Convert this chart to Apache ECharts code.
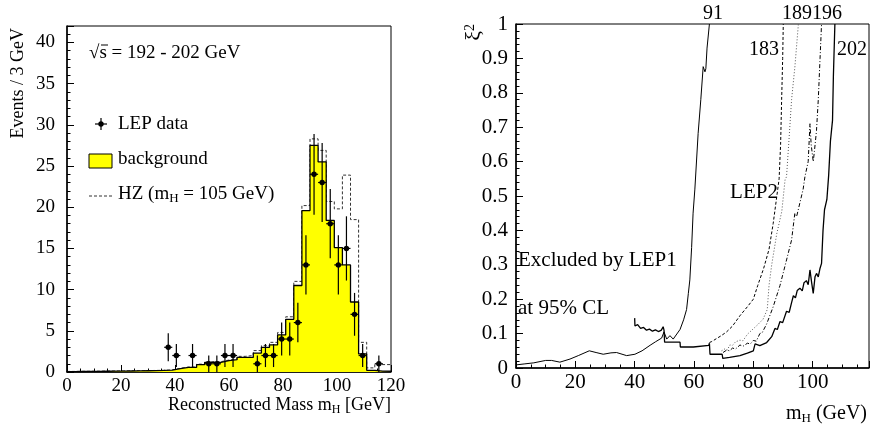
<!DOCTYPE html>
<html>
<head>
<meta charset="utf-8">
<script src="https://cdn.jsdelivr.net/npm/echarts/dist/echarts.min.js"></script>
<style>
html,body{margin:0;padding:0;background:#fff;}
#chart{width:871px;height:424px;}
</style>
</head>
<body>
<div id="chart"></div>
<script>
// ---------- Left panel: reconstructed mass histogram ----------
var binLow = [0,3,6,9,12,15,18,21,24,27,30,33,36,39,42,45,48,51,54,57,60,63,66,69,72,75,78,81,84,87,90,93,96,99,102,105,108,111,114,117];
var binHigh = 120;
var background = [0.05,0.06,0.07,0.08,0.09,0.1,0.11,0.12,0.13,0.15,0.17,0.19,0.22,0.4,0.56,0.56,0.9,1.17,1.17,1.37,1.5,1.77,1.77,2.3,3.0,3.3,4.5,6.4,10.5,19.6,27.5,25.5,18.4,15.1,13.0,8.5,2.2,0.2,0.1,0.1];
var hzSignal = [0.07,0.08,0.09,0.1,0.11,0.12,0.13,0.14,0.15,0.17,0.19,0.21,0.25,0.45,0.6,0.6,0.95,1.25,1.25,1.45,1.6,1.9,2.0,2.6,3.2,3.6,4.8,6.7,11.0,20.2,28.3,26.9,20.7,19.8,23.9,18.5,3.6,0.5,0.9,0.9];
var dataX = [37.5,40.5,46.5,52.5,55.5,58.5,61.5,70.5,73.5,76.5,79.5,82.5,85.5,88.5,91.5,94.5,97.5,100.5,103.5,106.5,109.5,115.5];
var dataY = [3,2,2,1,1,2,2,1,2,2,4,4,6,13,24,23,18,13,15,7,2,1];
var dataErr = [1.7,1.4,1.4,1.0,1.0,1.4,1.4,1.0,1.4,1.4,2.0,2.0,2.4,3.6,4.9,4.8,4.2,3.6,3.9,2.6,1.4,1.0];
var leftXTicks = {min:0, max:120, interval:20};
var leftYTicks = {min:0, max:42, interval:5};

// ---------- Right panel: xi^2 exclusion curves ----------
var curve91 = [[0,0.009],[3,0.012],[6,0.015],[10,0.022],[12,0.022],[14.8,0.017],[18.2,0.026],[21,0.036],[24.7,0.05],[27,0.045],[29.4,0.04],[32,0.044],[33.9,0.045],[37.3,0.036],[40.1,0.04],[42.5,0.05],[45.2,0.066],[47,0.076],[49.1,0.087],[49.9,0.105],[50.8,0.084],[51.9,0.094],[53,0.084],[55.3,0.112],[56.5,0.14],[57.5,0.17],[58.1,0.217],[58.6,0.256],[59.2,0.35],[59.7,0.45],[60.3,0.52],[61.4,0.682],[62.3,0.78],[63.1,0.876],[63.3,0.88],[63.7,0.861],[64.0,0.87],[64.4,0.93],[65.2,1.0]];
var curve183 = [[65.2,0.074],[66,0.077],[67.5,0.085],[69.2,0.094],[71,0.105],[73,0.122],[75.5,0.152],[78,0.178],[80,0.2],[81.5,0.24],[83.5,0.29],[85.3,0.345],[86.7,0.42],[87.9,0.498],[88.7,0.55],[89.2,0.65],[89.55,0.78],[89.9,0.9],[90.1,1.0]];
var curve189 = [[69.3,0.05],[70.5,0.056],[71.2,0.052],[72.1,0.067],[73,0.066],[74,0.076],[75.5,0.081],[76.5,0.079],[78,0.098],[80,0.114],[81.5,0.126],[83.3,0.142],[84.7,0.17],[85.3,0.24],[86.2,0.3],[87.9,0.39],[89.6,0.455],[90.7,0.547],[91.2,0.556],[92.0,0.66],[92.9,0.78],[94.0,0.874],[95.2,1.0]];
var curve196 = [[69.8,0.045],[71,0.052],[72,0.05],[73,0.058],[74,0.055],[75.5,0.067],[76.5,0.063],[78,0.072],[79,0.07],[80,0.08],[81,0.078],[82.2,0.1],[83,0.103],[84.5,0.128],[86.7,0.178],[89,0.24],[91.2,0.314],[92.9,0.372],[94,0.45],[94.6,0.44],[95.7,0.48],[96.8,0.52],[97.4,0.556],[98.5,0.60],[99.1,0.71],[99.5,0.65],[100.2,0.6],[100.6,0.63],[101.3,0.69],[101.9,0.78],[102.5,0.9],[103.0,1.0]];
var curve202 = [[40,0.145],[40.1,0.122],[41,0.126],[42,0.115],[43,0.118],[44,0.11],[45,0.113],[46,0.107],[47,0.111],[48,0.106],[49,0.11],[49.6,0.12],[49.9,0.11],[50.1,0.075],[55.3,0.075],[55.4,0.061],[59.8,0.061],[59.9,0.066],[65.0,0.066],[65.2,0.072],[65.4,0.04],[69.5,0.04],[69.7,0.028],[72,0.031],[75.5,0.036],[78,0.043],[80,0.05],[80.6,0.07],[82.2,0.065],[84.5,0.074],[86.2,0.091],[87.3,0.115],[88.1,0.112],[89.0,0.135],[89.9,0.132],[91.2,0.165],[92.1,0.162],[92.9,0.19],[93.5,0.21],[94.2,0.204],[94.8,0.225],[95.7,0.232],[96.5,0.224],[97.1,0.248],[97.9,0.254],[98.5,0.242],[99.1,0.285],[99.7,0.246],[100.2,0.217],[100.8,0.265],[101.3,0.275],[101.9,0.265],[102.5,0.29],[103.0,0.304],[103.3,0.30],[103.5,0.40],[104.0,0.46],[104.8,0.49],[105.4,0.56],[106.0,0.66],[106.7,0.72],[107.0,0.85],[107.5,1.0]];
var rightXTicks = {min:0, max:119, interval:20};
var rightYTicks = {min:0, max:1, interval:0.1};

// ---------- build ----------
function stepData(vals){
  var d = binLow.map(function(x,i){return [x, vals[i]];});
  d.push([binHigh, vals[vals.length-1]]);
  return d;
}
var pts = dataX.map(function(x,i){return [x, dataY[i], dataErr[i]];});

var SERIF = '"Liberation Serif","DejaVu Serif",serif';
var black = '#000';

function axisCommon(fs, margin){
  return {
    axisLine:{show:true, onZero:false, lineStyle:{color:black, width:1.5}},
    axisTick:{show:true, inside:true, length:7, lineStyle:{color:black, width:1}},
    minorTick:{show:true, length:3.5, lineStyle:{color:black, width:1}},
    splitLine:{show:false},
    minorSplitLine:{show:false},
    axisLabel:{color:black, fontFamily:SERIF, fontSize:fs, margin:margin, showMaxLabel:false}
  };
}
function mk(base, extra){ var o = JSON.parse(JSON.stringify(base)); for (var k in extra){ if (typeof extra[k]==='object' && o[k] && !Array.isArray(extra[k])){ for (var j in extra[k]) o[k][j]=extra[k][j]; } else o[k]=extra[k]; } return o; }

var chart = echarts.init(document.getElementById('chart'), null, {renderer:'canvas'});

var option = {
  animation:false,
  backgroundColor:'#fff',
  grid:[
    {left:67, top:26, width:324, height:346, show:true, borderColor:black, borderWidth:1, backgroundColor:'transparent'},
    {left:516, top:24, width:353, height:344, show:true, borderColor:black, borderWidth:1, backgroundColor:'transparent'}
  ],
  xAxis:[
    mk(axisCommon(19,5), {type:'value', gridIndex:0, min:leftXTicks.min, max:leftXTicks.max, interval:leftXTicks.interval, minorTick:{splitNumber:4}, axisLabel:{showMaxLabel:true}}),
    mk(axisCommon(21,4), {type:'value', gridIndex:1, min:rightXTicks.min, max:rightXTicks.max, interval:rightXTicks.interval, minorTick:{splitNumber:4}})
  ],
  yAxis:[
    mk(axisCommon(19,12), {type:'value', gridIndex:0, min:leftYTicks.min, max:leftYTicks.max, interval:leftYTicks.interval, minorTick:{splitNumber:5}}),
    mk(axisCommon(21,8), {type:'value', gridIndex:1, min:rightYTicks.min, max:rightYTicks.max, interval:rightYTicks.interval, minorTick:{splitNumber:5}, axisLabel:{showMaxLabel:true}})
  ],
  series:[
    {name:'HZ', type:'line', xAxisIndex:0, yAxisIndex:0, step:'end', data:stepData(hzSignal), showSymbol:false, symbol:'none',
      lineStyle:{color:'#333', width:1, type:[3,2]}, z:2},
    {name:'background', type:'line', xAxisIndex:0, yAxisIndex:0, step:'end', data:stepData(background), showSymbol:false, symbol:'none',
      lineStyle:{color:black, width:1.3}, areaStyle:{color:'#ffff00', opacity:1}, z:3},
    {name:'LEP data', type:'custom', xAxisIndex:0, yAxisIndex:0, data:pts, encode:{x:0,y:1}, z:5,
      renderItem:function(params, api){
        var x = api.value(0), y = api.value(1), e = api.value(2);
        var c = api.coord([x,y]);
        var t = api.coord([x,y+e]);
        var b = api.coord([x,Math.max(0,y-e)]);
        var l = api.coord([x-1.5,y]);
        var r = api.coord([x+1.5,y]);
        return {type:'group', children:[
          {type:'line', shape:{x1:c[0],y1:t[1],x2:c[0],y2:b[1]}, style:{stroke:black, lineWidth:1.2}},
          {type:'line', shape:{x1:l[0],y1:c[1],x2:r[0],y2:c[1]}, style:{stroke:black, lineWidth:1.2}},
          {type:'circle', shape:{cx:c[0],cy:c[1],r:2.7}, style:{fill:black}}
        ]};
      }},
    {name:'91', type:'line', xAxisIndex:1, yAxisIndex:1, data:curve91, showSymbol:false, symbol:'none', lineStyle:{color:black, width:1}},
    {name:'183', type:'line', xAxisIndex:1, yAxisIndex:1, data:curve183, showSymbol:false, symbol:'none', lineStyle:{color:black, width:1, type:[3,2]}},
    {name:'189', type:'line', xAxisIndex:1, yAxisIndex:1, data:curve189, showSymbol:false, symbol:'none', lineStyle:{color:'#555', width:1, type:[1,2]}},
    {name:'196', type:'line', xAxisIndex:1, yAxisIndex:1, data:curve196, showSymbol:false, symbol:'none', lineStyle:{color:black, width:1, type:[4,2,1,2]}},
    {name:'202', type:'line', xAxisIndex:1, yAxisIndex:1, data:curve202, showSymbol:false, symbol:'none', lineStyle:{color:black, width:1.3}}
  ],
  graphic:[
    // left panel texts
    {type:'text', x:18, y:28, rotation:Math.PI/2, style:{text:'Events / 3 GeV', font:'18px '+SERIF, fill:black, align:'right', verticalAlign:'middle'}},
    {type:'text', x:391, y:405, style:{rich:{a:{fontSize:18, fontFamily:SERIF, fill:black, lineHeight:22}, s:{fontSize:12, fontFamily:SERIF, fill:black, lineHeight:12, verticalAlign:'bottom'}}, text:'{a|Reconstructed Mass m}{s|H}{a| [GeV]}', align:'right', verticalAlign:'middle'}},
    {type:'text', x:89, y:53, style:{text:'\u221As = 192 - 202 GeV', font:'19px '+SERIF, fill:black, align:'left', verticalAlign:'middle'}},
    {type:'line', shape:{x1:101, y1:45, x2:108, y2:45}, style:{stroke:black, lineWidth:1}},
    // legend
    {type:'line', shape:{x1:95, y1:124, x2:107, y2:124}, style:{stroke:black, lineWidth:1.2}},
    {type:'line', shape:{x1:101, y1:118, x2:101, y2:130}, style:{stroke:black, lineWidth:1.2}},
    {type:'circle', shape:{cx:101, cy:124, r:2.7}, style:{fill:black}},
    {type:'text', x:118, y:124, style:{text:'LEP data', font:'19px '+SERIF, fill:black, align:'left', verticalAlign:'middle'}},
    {type:'rect', shape:{x:89, y:154, width:23, height:14}, style:{fill:'#ffff00', stroke:black, lineWidth:1}},
    {type:'text', x:118, y:159, style:{text:'background', font:'19px '+SERIF, fill:black, align:'left', verticalAlign:'middle'}},
    {type:'line', shape:{x1:89, y1:196, x2:112, y2:196}, style:{stroke:'#333', lineWidth:1, lineDash:[3,2]}},
    {type:'text', x:118, y:194, style:{rich:{a:{fontSize:19, fontFamily:SERIF, fill:black, lineHeight:22}, s:{fontSize:13, fontFamily:SERIF, fill:black, lineHeight:12, verticalAlign:'bottom'}}, text:'{a|HZ (m}{s|H}{a| = 105 GeV)}', align:'left', verticalAlign:'middle'}},
    // right panel texts
    {type:'text', x:474, y:24, rotation:Math.PI/2, style:{rich:{a:{fontSize:22, fontFamily:SERIF, fill:black, lineHeight:22}, p:{fontSize:14, fontFamily:SERIF, fill:black, lineHeight:12, verticalAlign:'top'}}, text:'{a|\u03BE}{p|2}', align:'right', verticalAlign:'middle'}},
    {type:'text', x:867, y:414, style:{rich:{a:{fontSize:20, fontFamily:SERIF, fill:black, lineHeight:22}, s:{fontSize:13, fontFamily:SERIF, fill:black, lineHeight:12, verticalAlign:'bottom'}}, text:'{a|m}{s|H}{a| (GeV)}', align:'right', verticalAlign:'middle'}},
    {type:'text', x:713, y:14, style:{text:'91', font:'20px '+SERIF, fill:black, align:'center', verticalAlign:'middle'}},
    {type:'text', x:812, y:14, style:{text:'189196', font:'20px '+SERIF, fill:black, align:'center', verticalAlign:'middle'}},
    {type:'text', x:779, y:50, style:{text:'183', font:'20px '+SERIF, fill:black, align:'right', verticalAlign:'middle'}},
    {type:'text', x:837, y:50, style:{text:'202', font:'20px '+SERIF, fill:black, align:'left', verticalAlign:'middle'}},
    {type:'text', x:754, y:192, style:{text:'LEP2', font:'21px '+SERIF, fill:black, align:'center', verticalAlign:'middle'}},
    {type:'text', x:518, y:260, style:{text:'Excluded by LEP1', font:'21px '+SERIF, fill:black, align:'left', verticalAlign:'middle'}},
    {type:'text', x:518, y:308, style:{text:'at 95% CL', font:'21px '+SERIF, fill:black, align:'left', verticalAlign:'middle'}}
  ]
};
chart.setOption(option);
</script>
</body>
</html>
